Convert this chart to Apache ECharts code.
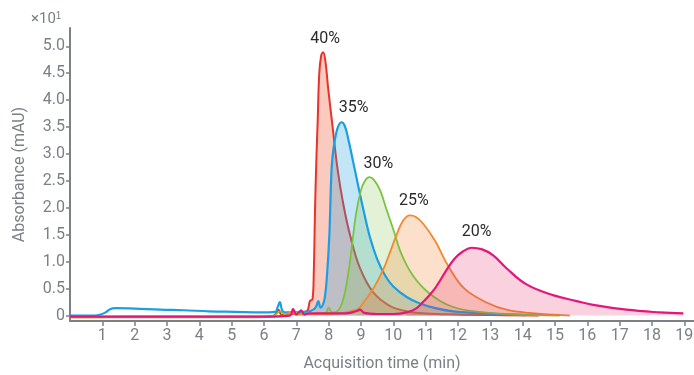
<!DOCTYPE html>
<html>
<head>
<meta charset="utf-8">
<script src="https://cdn.jsdelivr.net/npm/echarts@6/dist/echarts.min.js"></script>
<style>
  html, body { margin: 0; padding: 0; background: #fff; }
  #chart { width: 694px; height: 375px; }
</style>
</head>
<body>
<div id="chart"></div>
<script>
// Chromatogram traces, absorbance in units of 10 mAU, time in minutes.
const t40 = [0, 5.8, 6.3, 6.45, 6.55, 6.9, 7.2, 7.35, 7.42, 7.5, 7.54, 7.58, 7.62, 7.66, 7.71, 7.77, 7.83, 7.9, 7.99, 8.11, 8.28, 8.45, 8.66, 8.97, 9.38, 9.89, 10.41, 11.0, 12.0, 13.0, 14.5];
const v40 = [-0.02, -0.02, 0.0, 0.11, 0.01, 0.03, 0.06, 0.1, 0.27, 0.3, 0.8, 2.0, 2.9, 3.6, 4.5, 4.83, 4.89, 4.72, 4.19, 3.57, 2.7, 2.08, 1.5, 0.88, 0.43, 0.18, 0.08, 0.04, 0.02, 0.01, 0.0];

const t35 = [0, 0.75, 0.95, 1.1, 1.24, 1.4, 2.0, 2.8, 3.5, 4.3, 5.1, 5.9, 6.35, 6.42, 6.49, 6.56, 6.65, 7.0, 7.4, 7.55, 7.62, 7.68, 7.75, 7.82, 7.88, 7.94, 8.02, 8.09, 8.15, 8.22, 8.3, 8.4, 8.5, 8.61, 8.76, 8.9, 9.07, 9.28, 9.5, 9.75, 10.0, 10.4, 10.8, 11.3, 11.85, 12.5, 13.3, 14.1];
const v35 = [0, 0, 0.02, 0.06, 0.12, 0.14, 0.13, 0.11, 0.1, 0.08, 0.07, 0.06, 0.07, 0.15, 0.25, 0.1, 0.06, 0.06, 0.08, 0.12, 0.18, 0.27, 0.15, 0.2, 0.33, 0.67, 1.47, 2.71, 3.1, 3.35, 3.52, 3.59, 3.52, 3.27, 2.85, 2.45, 1.98, 1.45, 1.05, 0.74, 0.54, 0.35, 0.23, 0.14, 0.08, 0.05, 0.03, 0.01];

const t30 = [0, 1.0, 1.6, 3.0, 5.8, 6.3, 6.5, 6.7, 6.95, 7.1, 7.4, 7.9, 8.0, 8.1, 8.3, 8.45, 8.6, 8.72, 8.85, 9.0, 9.12, 9.26, 9.4, 9.59, 9.8, 10.0, 10.2, 10.4, 10.6, 10.85, 11.1, 11.4, 11.85, 12.5, 13.5, 15.15];
const v30 = [-0.03, -0.03, -0.02, -0.02, -0.02, 0.0, 0.08, 0.0, 0.08, 0.02, 0.03, 0.05, 0.15, 0.06, 0.1, 0.3, 0.75, 1.3, 1.9, 2.33, 2.5, 2.57, 2.52, 2.33, 1.95, 1.6, 1.22, 0.95, 0.75, 0.56, 0.42, 0.29, 0.16, 0.08, 0.03, 0.0];

const t25 = [0, 1.7, 3.6, 5.8, 6.6, 6.8, 7.0, 7.3, 8.0, 8.87, 9.07, 9.38, 9.69, 9.9, 10.1, 10.3, 10.51, 10.7, 10.93, 11.3, 11.7, 12.2, 12.9, 13.5, 14.2, 15.46];
const v25 = [-0.03, -0.03, -0.03, -0.03, 0.0, 0.06, 0.02, 0.03, 0.03, 0.11, 0.24, 0.5, 0.86, 1.18, 1.5, 1.76, 1.86, 1.83, 1.7, 1.38, 0.92, 0.5, 0.24, 0.11, 0.05, 0.0];

const t20 = [0, 6.0, 6.8, 6.9, 7.0, 7.15, 7.25, 7.4, 8.5, 8.85, 8.97, 9.1, 9.5, 10.0, 10.41, 10.7, 10.95, 11.15, 11.34, 11.65, 11.9, 12.15, 12.42, 12.75, 13.09, 13.5, 14.12, 14.94, 15.67, 16.18, 17.21, 18.24, 18.97];
const v20 = [-0.02, -0.02, 0.0, 0.12, 0.02, 0.1, 0.02, 0.04, 0.04, 0.08, 0.11, 0.05, 0.03, 0.03, 0.06, 0.13, 0.27, 0.4, 0.55, 0.85, 1.06, 1.19, 1.26, 1.23, 1.12, 0.88, 0.58, 0.38, 0.27, 0.2, 0.11, 0.06, 0.04];

// Peak windows (start, end) used for the shaded areas
const peakWindows = {
  '40%': [7.3, 14.5],
  '35%': [7.5, 14.1],
  '30%': [7.8, 15.15],
  '25%': [8.5, 15.46],
  '20%': [10.2, 18.97]
};

const xTicks = [1, 2, 3, 4, 5, 6, 7, 8, 9, 10, 11, 12, 13, 14, 15, 16, 17, 18, 19];
const yTicks = [0, 0.5, 1.0, 1.5, 2.0, 2.5, 3.0, 3.5, 4.0, 4.5, 5.0];

// zArea / zLine set the stacking of each fill and trace
const traces = [
  { name: '40%', t: t40, v: v40, line: '#e8332b', fill: 'rgba(236,96,58,0.48)', width: 2, off: [2, -13], zArea: 1, zLine: 2 },
  { name: '35%', t: t35, v: v35, line: '#1c9fe2', fill: 'rgba(30,160,226,0.38)', width: 2.2, off: [12, -14], zArea: 3, zLine: 6 },
  { name: '30%', t: t30, v: v30, line: '#7cc242', fill: 'rgba(124,194,66,0.3)', width: 1.8, off: [9, -13], zArea: 4, zLine: 7 },
  { name: '25%', t: t25, v: v25, line: '#f2892e', fill: 'rgba(247,140,60,0.38)', width: 1.8, off: [4, -14], zArea: 5, zLine: 8 },
  { name: '20%', t: t20, v: v20, line: '#e3177a', fill: 'rgba(226,36,104,0.3)', width: 2.2, off: [5, -16], zArea: 9, zLine: 10 }
];

const gray = '#7b8086';
const font = 'Roboto, "Noto Sans", sans-serif';
const SMOOTH = 0.4;

const series = [];
traces.forEach(tr => {
  const pts = tr.t.map((x, i) => [x, tr.v[i]]);
  const [a, b] = peakWindows[tr.name];
  series.push({
    type: 'line',
    data: pts.filter(p => p[0] >= a && p[0] <= b),
    symbol: 'none',
    smooth: SMOOTH,
    silent: true,
    z: tr.zArea,
    lineStyle: { width: 0 },
    areaStyle: { color: tr.fill, origin: 0 },
    clip: false
  });
  series.push({
    type: 'line',
    name: tr.name,
    data: pts,
    symbol: 'none',
    smooth: SMOOTH,
    z: tr.zLine,
    lineStyle: { color: tr.line, width: tr.width },
    itemStyle: { color: tr.line },
    clip: false,
    markPoint: {
      symbol: 'circle',
      symbolSize: 0,
      data: [{ type: 'max' }],
      label: {
        show: true,
        position: 'inside',
        offset: tr.off,
        formatter: tr.name,
        color: '#2b2b2b',
        fontSize: 16,
        fontFamily: font
      }
    }
  });
});

const chart = echarts.init(document.getElementById('chart'), null, { renderer: 'canvas' });
chart.setOption({
  animation: false,
  backgroundColor: '#fff',
  grid: { left: 70, right: 0, top: 28, bottom: 54, containLabel: false, outerBoundsMode: 'none' },
  xAxis: {
    type: 'value',
    min: 0,
    max: 19.3,
    name: 'Acquisition time (min)',
    nameLocation: 'middle',
    nameGap: 35,
    nameTextStyle: { color: gray, fontSize: 16, fontFamily: font },
    axisLine: { onZero: false, lineStyle: { color: gray, width: 2 } },
    axisTick: { show: true, length: 5, customValues: xTicks, lineStyle: { color: gray, width: 1.5 } },
    axisLabel: { customValues: xTicks, color: gray, fontSize: 16, fontFamily: font, margin: 7 },
    splitLine: { show: false }
  },
  yAxis: {
    type: 'value',
    min: -0.1,
    max: 5.34,
    name: 'Absorbance (mAU)',
    nameLocation: 'middle',
    nameGap: 42,
    nameTextStyle: { color: gray, fontSize: 16, fontFamily: font },
    axisLine: { show: true, lineStyle: { color: gray, width: 2 } },
    axisTick: { show: true, length: 4, customValues: yTicks, lineStyle: { color: gray, width: 1.5 } },
    axisLabel: {
      customValues: yTicks,
      color: gray, fontSize: 16, fontFamily: font, margin: 5,
      formatter: v => (v === 0 ? '0' : v.toFixed(1))
    },
    splitLine: { show: false }
  },
  graphic: [{
    type: 'text',
    left: 31,
    top: 11,
    style: {
      text: '×10{s|1}',
      fill: gray,
      font: '15px ' + font,
      rich: { s: { fontSize: 10, verticalAlign: 'top', padding: [0, 0, 6, 0], fill: gray } }
    }
  }],
  series: series
});
</script>
</body>
</html>
